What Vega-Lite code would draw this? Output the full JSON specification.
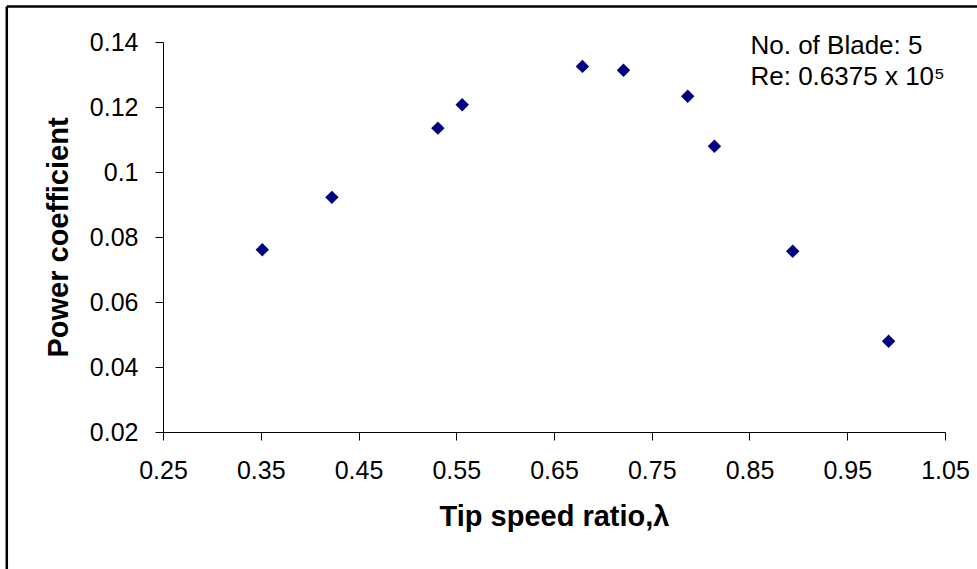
{
  "$schema": "https://vega.github.io/schema/vega-lite/v6.json",
  "width": 782,
  "height": 390,
  "autosize": {"type": "none"},
  "padding": {"left": 163, "top": 42, "right": 32, "bottom": 137},
  "background": "white",
  "config": {
    "view": {"stroke": null},
    "font": "Liberation Sans",
    "axis": {
      "grid": false,
      "labelFlush": false,
      "labelOverlap": false,
      "domainColor": "black",
      "domainWidth": 1,
      "tickColor": "black",
      "tickWidth": 1,
      "tickSize": 8,
      "labelColor": "black",
      "labelFont": "Liberation Sans",
      "labelFontSize": 25,
      "titleColor": "black",
      "titleFont": "Liberation Sans",
      "titleFontSize": 29,
      "titleFontWeight": "bold"
    }
  },
  "layer": [
    {
      "data": {
        "values": [
          {"lambda": 0.3516, "cp": 0.0761},
          {"lambda": 0.4228, "cp": 0.0922},
          {"lambda": 0.5312, "cp": 0.1135},
          {"lambda": 0.5561, "cp": 0.1207},
          {"lambda": 0.6791, "cp": 0.1325},
          {"lambda": 0.7211, "cp": 0.1313},
          {"lambda": 0.7868, "cp": 0.1233},
          {"lambda": 0.8141, "cp": 0.1079},
          {"lambda": 0.8942, "cp": 0.0756},
          {"lambda": 0.9923, "cp": 0.0479}
        ]
      },
      "mark": {"type": "point", "shape": "diamond", "filled": true, "color": "#000080", "size": 180, "opacity": 1},
      "encoding": {
        "x": {
          "field": "lambda", "type": "quantitative",
          "scale": {"domain": [0.25, 1.05], "nice": false, "zero": false},
          "axis": {"values": [0.25, 0.35, 0.45, 0.55, 0.65, 0.75, 0.85, 0.95, 1.05], "format": ".2f", "title": "Tip speed ratio,λ", "labelPadding": 18, "titlePadding": 19}
        },
        "y": {
          "field": "cp", "type": "quantitative",
          "scale": {"domain": [0.02, 0.14], "nice": false, "zero": false},
          "axis": {"values": [0.02, 0.04, 0.06, 0.08, 0.1, 0.12, 0.14], "format": ".2~f", "title": "Power coefficient", "labelPadding": 17, "titlePadding": 16}
        }
      }
    },
    {
      "data": {"values": [{}]},
      "mark": {"type": "rule", "clip": false, "color": "black", "strokeWidth": 2.5},
      "encoding": {
        "x": {"datum": 0.0902, "type": "quantitative"},
        "y": {"datum": 0.1509, "type": "quantitative"},
        "y2": {"datum": -0.04}
      }
    },
    {
      "data": {"values": [{}]},
      "mark": {"type": "rule", "clip": false, "color": "black", "strokeWidth": 2.5},
      "encoding": {
        "y": {"datum": 0.1509, "type": "quantitative"},
        "x": {"datum": 0.0902, "type": "quantitative"},
        "x2": {"datum": 1.1}
      }
    },
    {
      "data": {"values": [{}]},
      "mark": {"type": "text", "clip": false, "align": "left", "baseline": "middle", "fontSize": 26, "fontWeight": "normal", "lineHeight": 31, "fill": "black", "font": "Liberation Sans"},
      "encoding": {
        "x": {"datum": 0.851, "type": "quantitative"},
        "y": {"datum": 0.1387, "type": "quantitative"},
        "text": {"value": ["No. of Blade: 5", "Re: 0.6375 x 10⁵"]}
      }
    }
  ]
}
